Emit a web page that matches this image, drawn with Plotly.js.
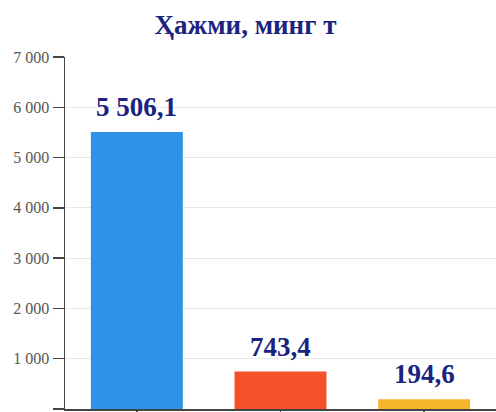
<!DOCTYPE html>
<html>
<head>
<meta charset="utf-8">
<script src="https://cdn.plot.ly/plotly-3.0.1.min.js"></script>
<style>html,body{margin:0;padding:0;background:#fff;}#chart{width:496px;height:412px;}</style>
</head>
<body>
<div id="chart"></div>
<script>
const titleText = 'Ҳажми, минг т';
const categories = ['Категория 1', 'Категория 2', 'Категория 3'];
const values = [5506.1, 743.4, 194.6];
const barColors = ['#2e93e8', '#f4502a', '#f4b52c'];
const yTickVals = [0, 1000, 2000, 3000, 4000, 5000, 6000, 7000];

function fmt(v) {
  const parts = v.toFixed(1).split('.');
  const intPart = parts[0].replace(/\B(?=(\d{3})+(?!\d))/g, ' ');
  return intPart + ',' + parts[1];
}

const navy = '#1a2380';
const serif = '"Liberation Serif", "Times New Roman", serif';

const trace = {
  type: 'bar',
  x: categories,
  y: values,
  marker: { color: barColors },
  hoverinfo: 'none'
};

const annotations = categories.map((c, i) => ({
  x: c, y: values[i], xref: 'x', yref: 'y',
  text: '<b>' + fmt(values[i]) + '</b>',
  showarrow: false,
  yanchor: 'bottom',
  yshift: 8,
  font: { family: serif, size: 27, color: navy }
}));

const layout = {
  width: 496, height: 412,
  margin: { l: 65, r: 0, t: 57, b: 3 },
  paper_bgcolor: '#fff', plot_bgcolor: '#fff',
  separators: ', ',
  showlegend: false,
  bargap: 0.36,
  title: {
    text: '<b>' + titleText + '</b>',
    x: 0.495, xref: 'container', xanchor: 'center',
    y: 0.94, yref: 'container', yanchor: 'middle',
    font: { family: serif, size: 27, color: navy }
  },
  xaxis: {
    type: 'category',
    range: [-0.5, 2.5],
    showticklabels: false,
    ticks: 'outside', ticklen: 6, tickcolor: '#444', tickwidth: 1.5,
    showline: true, linecolor: '#444', linewidth: 1.5,
    showgrid: false, zeroline: false, fixedrange: true
  },
  yaxis: {
    range: [0, 7000],
    tickvals: yTickVals,
    tickformat: ',d',
    ticks: 'outside', ticklen: 11, tickcolor: '#444', tickwidth: 1.5,
    showline: true, linecolor: '#444', linewidth: 1.5,
    showgrid: true, gridcolor: '#e9e9e9', gridwidth: 1,
    zeroline: false,
    tickfont: { family: serif, size: 16, color: '#555' },
    fixedrange: true
  },
  annotations: annotations
};

Plotly.newPlot('chart', [trace], layout, { displayModeBar: false, staticPlot: true });
</script>
</body>
</html>
